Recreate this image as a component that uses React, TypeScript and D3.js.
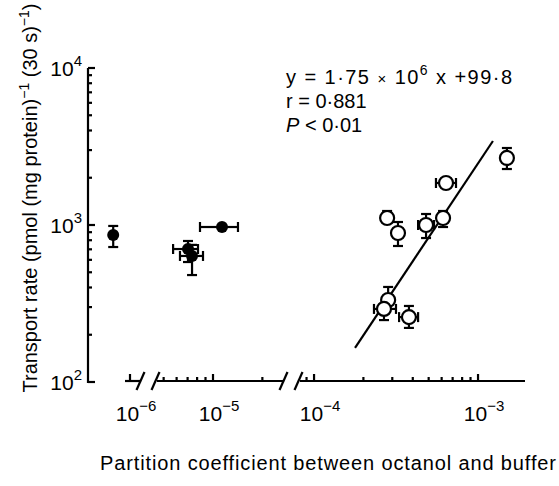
import * as d3 from "d3";

// open circles: partition coefficient vs transport rate, with error bars
const openPoints = [
    {x: 1.5e-3, y: 2673, yLo: 2273, yHi: 3093, xLo: null, xHi: null},
    {x: 6.38e-4, y: 1852, yLo: null, yHi: null, xLo: 5.54e-4, xHi: 7.34e-4},
    {x: 6.12e-4, y: 1108, yLo: 971, yHi: 1228, xLo: null, xHi: null},
    {x: 4.82e-4, y: 1000, yLo: 826, yHi: 1175, xLo: 4.31e-4, xHi: 5.39e-4},
    {x: 2.79e-4, y: 1108, yLo: null, yHi: 1228, xLo: null, xHi: null},
    {x: 3.25e-4, y: 889, yLo: 735, yHi: 1045, xLo: null, xHi: null},
    {x: 2.83e-4, y: 333, yLo: null, yHi: 403, xLo: null, xHi: null},
    {x: 2.67e-4, y: 292, yLo: 248, yHi: null, xLo: 2.32e-4, xHi: 3.16e-4},
    {x: 3.79e-4, y: 259, yLo: 221, yHi: 305, xLo: 3.3e-4, xHi: 4.31e-4},
];

const filledPoints = [
    {x: 7.9e-7, y: 863, yLo: 724, yHi: 986, xLo: null, xHi: null},
    {x: 1.135e-5, y: 971, yLo: null, yHi: null, xLo: 8.33e-6, xHi: 1.42e-5},
    {x: 7.04e-6, y: 703, yLo: 581, yHi: 791, xLo: 5.71e-6, xHi: 8.1e-6},
    {x: 7.45e-6, y: 635, yLo: 480, yHi: 747, xLo: 6.29e-6, xHi: 8.69e-6},
];

const fitLine = [
    {x: 1.778e-4, y: 165},
    {x: 1.233e-3, y: 3428},
];

const xMajor = [1e-6, 1e-5, 1e-4, 1e-3];
const xMajorExp = ["−6", "−5", "−4", "−3"];
const yMajor = [100, 1000, 10000];
const yMajorExp = ["2", "3", "4"];

const font = "'Liberation Sans', Arial, Helvetica, sans-serif";

// broken log axis: three pieces
const xPieces = [
    {domain: [9.322e-7, 1.1507e-6], range: [125, 140]},
    {domain: [4.555e-6, 2.672e-5], range: [157, 283]},
    {domain: [8.21e-5, 1.934e-3], range: [300, 525]},
].map((p) => ({...p, scale: d3.scaleLog().domain(p.domain).range(p.range)}));

const x = (v) => {
    let piece = xPieces[0];
    xPieces.forEach((p) => {
        if(v >= p.domain[0] * 0.8) piece = p;
    });
    return piece.scale(v);
};

const y = d3.scaleLog().domain([100, 10000]).range([382, 68]);

const axisY = 381;
const axisX = 88;

function ErrorBars({d, cap = 5}) {
    const cx = x(d.x);
    const cy = y(d.y);
    const out = [];
    if(d.yHi != null) {
        out.push(<line key="yh" x1={cx} x2={cx} y1={cy} y2={y(d.yHi)} />);
        out.push(<line key="yhc" x1={cx - cap} x2={cx + cap} y1={y(d.yHi)} y2={y(d.yHi)} />);
    }
    if(d.yLo != null) {
        out.push(<line key="yl" x1={cx} x2={cx} y1={cy} y2={y(d.yLo)} />);
        out.push(<line key="ylc" x1={cx - cap} x2={cx + cap} y1={y(d.yLo)} y2={y(d.yLo)} />);
    }
    if(d.xLo != null) {
        out.push(<line key="xl" x1={cx} x2={x(d.xLo)} y1={cy} y2={cy} />);
        out.push(<line key="xlc" x1={x(d.xLo)} x2={x(d.xLo)} y1={cy - cap} y2={cy + cap} />);
    }
    if(d.xHi != null) {
        out.push(<line key="xh" x1={cx} x2={x(d.xHi)} y1={cy} y2={cy} />);
        out.push(<line key="xhc" x1={x(d.xHi)} x2={x(d.xHi)} y1={cy - cap} y2={cy + cap} />);
    }
    return <g>{out}</g>;
}

export default function App() {
    // y ticks
    const yTicks = [];
    [100, 1000].forEach((dec) => {
        for(let k = 2; k <= 9; k++) {
            yTicks.push({v: dec * k, major: false});
        }
    });
    yMajor.forEach((v) => yTicks.push({v, major: true}));

    // x ticks per piece
    const xTicks = [];
    xPieces.forEach((p, i) => {
        if(i === 0) {
            xTicks.push({v: 1e-6, major: true});
            return;
        }
        for(let e = -6; e <= -2; e++) {
            for(let k = 1; k <= 9; k++) {
                const v = k * Math.pow(10, e);
                if(v >= p.domain[0] && v <= p.domain[1] * 1.001) {
                    xTicks.push({v, major: k === 1});
                }
            }
        }
    });

    const breaks = [
        (xPieces[0].range[1] + xPieces[1].range[0]) / 2,
        (xPieces[1].range[1] + xPieces[2].range[0]) / 2,
    ];

    const line = d3
        .line()
        .x((d) => x(d.x))
        .y((d) => y(d.y));

    return (
        <svg
            width={559}
            height={486}
            style={{position: "absolute", left: 0, top: 0, background: "#fff"}}
            fontFamily={font}
        >
            <g stroke="#000" strokeWidth={2.2} fill="none">
                {/* y axis with its little foot */}
                <path d={`M${axisX},${y(10000)} V${y(100)} H${axisX + 7}`} />
                {yTicks.map((t, i) => (
                    <line key={i} x1={axisX} x2={axisX + (t.major ? 7 : 4)} y1={y(t.v)} y2={y(t.v)} />
                ))}

                {/* x axis pieces */}
                {xPieces.map((p, i) => (
                    <line key={i} x1={p.range[0]} x2={p.range[1]} y1={axisY} y2={axisY} />
                ))}
                {xTicks.map((t, i) => (
                    <line key={i} x1={x(t.v)} x2={x(t.v)} y1={axisY} y2={axisY - (t.major ? 7 : 4)} />
                ))}
                {breaks.map((b, i) => (
                    <g key={i}>
                        <line x1={b - 12} x2={b - 4} y1={axisY + 9} y2={axisY - 9} />
                        <line x1={b + 3} x2={b + 11} y1={axisY + 9} y2={axisY - 9} />
                    </g>
                ))}
            </g>

            {/* tick labels */}
            <g fill="#000" fontSize={21}>
                {yMajor.map((v, i) => (
                    <text key={i} x={axisX - 6} y={y(v) + 8} textAnchor="end">
                        10<tspan dy={-10} fontSize={15}>{yMajorExp[i]}</tspan>
                    </text>
                ))}
                {xMajor.map((v, i) => (
                    <text key={i} x={x(v) + 6} y={421} textAnchor="middle">
                        10<tspan dy={-10} fontSize={15}>{xMajorExp[i]}</tspan>
                    </text>
                ))}
            </g>

            {/* regression line */}
            <path d={line(fitLine)} stroke="#000" strokeWidth={2.2} fill="none" />

            {/* error bars + points */}
            <g stroke="#000" strokeWidth={2.2}>
                {filledPoints.map((d, i) => (
                    <ErrorBars key={i} d={d} />
                ))}
                {openPoints.map((d, i) => (
                    <ErrorBars key={i} d={d} />
                ))}
            </g>
            {filledPoints.map((d, i) => (
                <circle key={i} cx={x(d.x)} cy={y(d.y)} r={6} fill="#000" />
            ))}
            {openPoints.map((d, i) => (
                <circle key={i} cx={x(d.x)} cy={y(d.y)} r={7} fill="#fff" stroke="#000" strokeWidth={2.2} />
            ))}

            {/* annotation */}
            <g fill="#000" fontSize={20}>
                <text x={286} y={84} textLength={226} lengthAdjust="spacing">
                    y = 1·75 <tspan fontSize={15}>×</tspan> 10<tspan dy={-9} fontSize={14}>6</tspan>
                    <tspan dy={9}> x +99·8</tspan>
                </text>
                <text x={286} y={108}>r = 0·881</text>
                <text x={286} y={132}>
                    <tspan fontStyle="italic">P</tspan> &lt; 0·01
                </text>
            </g>

            {/* axis titles */}
            <text x={328} y={470} textAnchor="middle" fontSize={20} textLength={456} lengthAdjust="spacing">
                Partition coefficient between octanol and buffer
            </text>
            <text
                transform="translate(37, 198) rotate(-90)"
                textAnchor="middle"
                fontSize={20}
                textLength={389}
                lengthAdjust="spacing"
            >
                Transport rate (pmol (mg protein)<tspan dy={-8} fontSize={14}>−1</tspan>
                <tspan dy={8}> (30 s)</tspan>
                <tspan dy={-8} fontSize={14}>−1</tspan>
                <tspan dy={8}>)</tspan>
            </text>
        </svg>
    );
}
